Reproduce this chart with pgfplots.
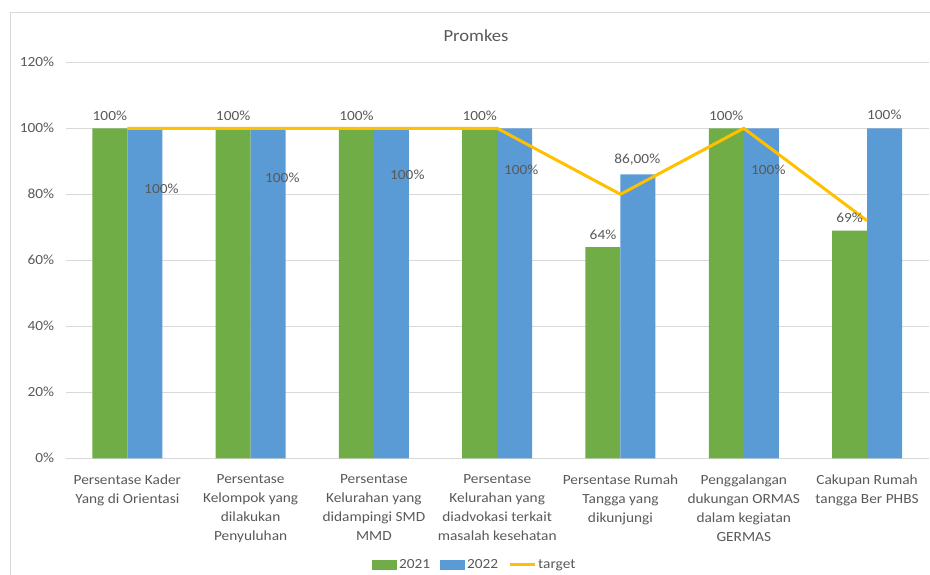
\documentclass[border=0pt]{standalone}
\usepackage{pgfplots}
\pgfplotsset{compat=1.18}
\usepackage{fontspec}
\setmainfont{Carlito}[FakeStretch=1.1]
\definecolor{g21}{HTML}{70AD47}
\definecolor{b22}{HTML}{5B9BD5}
\definecolor{tgt}{HTML}{FFC000}
\definecolor{txt}{HTML}{595959}
\definecolor{gridc}{HTML}{D9D9D9}
\tikzset{lbl/.style={text=txt, font=\fontsize{14}{16}\selectfont}}
\begin{document}
\begin{tikzpicture}[x=1bp,y=1bp]
\useasboundingbox (0,0) rectangle (930,575);
\draw[gridc, line width=0.75bp] (10,0) -- (10,563) -- (930,563);
\node[text=txt, font=\fontsize{17}{19}\selectfont] at (476,539) {Promkes};
\begin{axis}[
  at={(65.7bp,116.7bp)}, anchor=south west,
  scale only axis, width=863bp, height=396bp,
  xmin=-0.5, xmax=6.5, ymin=0, ymax=120,
  ybar=0pt, bar width=35bp,
  axis x line=bottom, axis y line=left,
  x axis line style={gridc, line width=0.75bp, -},
  y axis line style={draw=none},
  xtick style={draw=none}, ytick style={draw=none},
  ymajorgrids, grid style={gridc, line width=0.75bp},
  ytick={0,20,40,60,80,100,120},
  yticklabels={0\%,20\%,40\%,60\%,80\%,100\%,120\%},
  yticklabel style={text=txt, font=\fontsize{14}{16}\selectfont, xshift=-6bp},
  xtick={0,1,2,3,4,5,6},
  xticklabels={
    {Persentase Kader\\Yang di Orientasi},
    {Persentase\\Kelompok yang\\dilakukan\\Penyuluhan},
    {Persentase\\Kelurahan yang\\didampingi SMD\\MMD},
    {Persentase\\Kelurahan yang\\diadvokasi terkait\\masalah kesehatan},
    {Persentase Rumah\\Tangga yang\\dikunjungi},
    {Penggalangan\\dukungan ORMAS\\dalam kegiatan\\GERMAS},
    {Cakupan Rumah\\tangga Ber PHBS}},
  xticklabel style={align=center, text=txt, font=\fontsize{14}{19}\selectfont, yshift=-11bp},
  legend style={at={(0.474,-0.2694)}, anchor=center, draw=none,
    font=\fontsize{14}{16}\selectfont, text=txt,
    /tikz/every even column/.append style={column sep=8bp}},
  legend columns=3,
  legend cell align=left,
]
\addplot[fill=g21, draw=none,
  legend image code/.code={\fill[g21] (0bp,-5bp) rectangle (25bp,5bp);},
  nodes near coords={\pgfmathprintnumber[assume math mode=true]{\pgfplotspointmeta}\%},
  nodes near coords style={text=txt, font=\fontsize{14}{16}\selectfont, yshift=4bp}]
  coordinates {(0,100)(1,100)(2,100)(3,100)(4,64)(5,100)(6,69)};
\addlegendentry{2021}
\addplot[fill=b22, draw=none,
  legend image code/.code={\fill[b22] (0bp,-5bp) rectangle (25bp,5bp);}]
  coordinates {(0,100)(1,100)(2,100)(3,100)(4,86)(5,100)(6,100)};
\addlegendentry{2022}
\addplot[sharp plot, tgt, line width=3bp, mark=none,
  legend image code/.code={\draw[tgt, line width=3bp] (0bp,0bp) -- (25bp,0bp);}]
  coordinates {(0,100)(1,100)(2,100)(3,100)(4,80)(5,100)(6,72)};
\addlegendentry{target}
\node[lbl] at (axis cs:0.276,81.6) {100\%};
\node[lbl] at (axis cs:1.257,84.9) {100\%};
\node[lbl] at (axis cs:2.271,85.8) {100\%};
\node[lbl] at (axis cs:3.195,87.4) {100\%};
\node[lbl] at (axis cs:4.136,90.4) {86,00\%};
\node[lbl] at (axis cs:5.199,87.4) {100\%};
\node[lbl] at (axis cs:6.14,104) {100\%};
\end{axis}
\end{tikzpicture}
\end{document}
